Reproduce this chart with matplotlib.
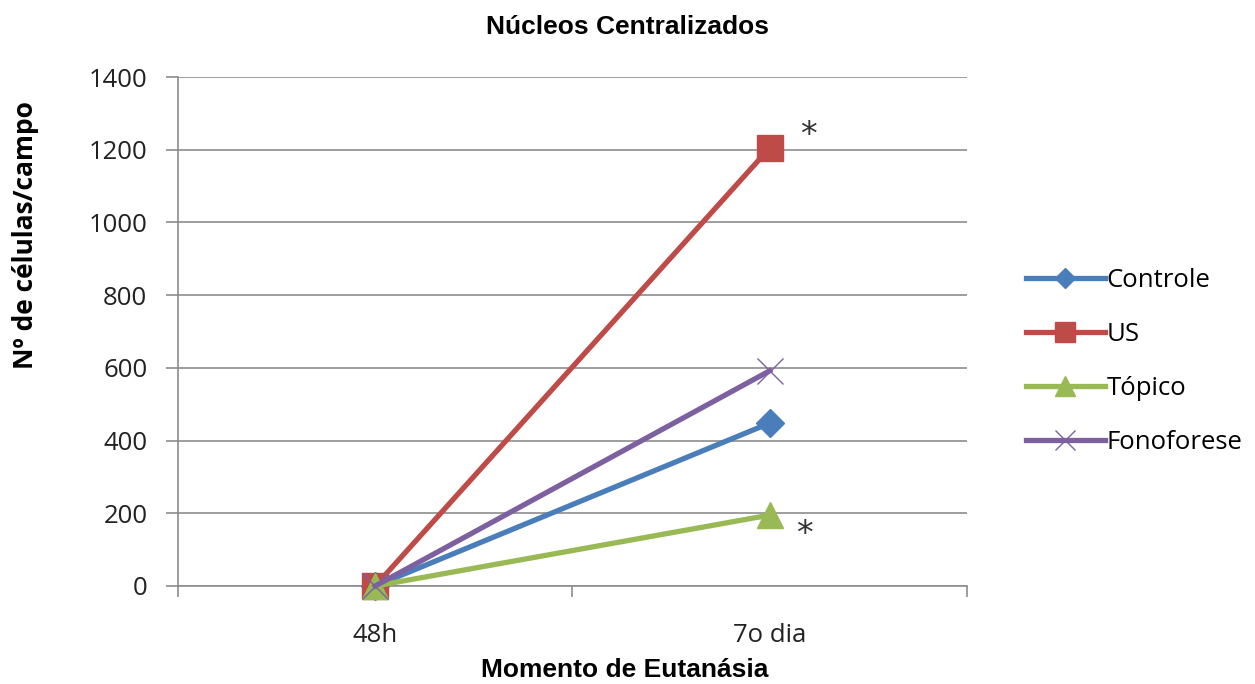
import matplotlib.pyplot as plt
from matplotlib.ticker import FixedLocator

# momentos de eutanásia e contagens médias por grupo
momentos = ['48h', '7o dia']
controle = [0, 448]
us = [0, 1205]
topico = [0, 195]
fonoforese = [0, 592]
y_ticks = [0, 200, 400, 600, 800, 1000, 1200, 1400]

tick_font = 'Open Sans'
grid_col = '#8c8c8c'

fig = plt.figure(figsize=(12.55, 6.84), dpi=100)
ax = fig.add_axes([0.1418, 0.1433, 0.6287, 0.7441])

x = list(range(len(momentos)))
ax.plot(x, controle, color='#4A7EBB', lw=3.8, marker='D', ms=14,
        label='Controle', zorder=3, clip_on=False)
ax.plot(x, us, color='#BE4B48', lw=3.8, marker='s', ms=19,
        label='US', zorder=3, clip_on=False)
ax.plot(x, topico, color='#98B954', lw=3.8, marker='^', ms=19,
        label='Tópico', zorder=3, clip_on=False)
ax.plot(x, fonoforese, color='#7D60A0', lw=3.8, marker='x', ms=19,
        mew=1.0, label='Fonoforese', zorder=3, clip_on=False)

# asteriscos de significância
ax.annotate('*', xy=(1, us[1]), xytext=(28, -3), textcoords='offset points',
            fontsize=24, color='#333333', ha='center', va='bottom')
ax.annotate('*', xy=(1, topico[1]), xytext=(25, -26), textcoords='offset points',
            fontsize=24, color='#333333', ha='center', va='bottom')

ax.set_xlim(-0.5, 1.5)
ax.set_ylim(0, 1400)
ax.set_yticks(y_ticks)
ax.set_yticklabels([str(v) for v in y_ticks], fontfamily=tick_font,
                   fontsize=18.5, color='#222222')
ax.set_xticks(x)
ax.set_xticklabels(momentos, fontfamily=tick_font, fontsize=18.5,
                   color='#222222')
ax.xaxis.set_minor_locator(FixedLocator([-0.5, 0.5, 1.5]))
ax.tick_params(axis='x', which='major', length=0, pad=27)
ax.tick_params(axis='x', which='minor', length=8, color=grid_col, width=1.2)
ax.tick_params(axis='y', length=9, color=grid_col, width=1.2, pad=13)

ax.grid(axis='y', color=grid_col, lw=1.2, zorder=0)
ax.set_axisbelow(True)
for s in ['top', 'right']:
    ax.spines[s].set_visible(False)
for s in ['left', 'bottom']:
    ax.spines[s].set_color(grid_col)
    ax.spines[s].set_linewidth(1.2)

fig.text(0.5, 0.96, 'Núcleos Centralizados', ha='center', va='center',
         fontfamily='Liberation Sans', fontweight='bold', fontsize=19)
fig.text(0.4975, 0.02, 'Momento de Eutanásia', ha='center', va='center',
         fontfamily='Liberation Sans', fontweight='bold', fontsize=19)
fig.text(0.020, 0.657, 'Nº de células/campo', ha='center', va='center',
         rotation=90, fontfamily='Open Sans', fontweight='bold',
         fontsize=19)

leg = ax.legend(loc='center left', bbox_to_anchor=(1.045, 0.441), frameon=False,
                prop={'family': tick_font, 'size': 18.5}, handlelength=3.1,
                handletextpad=0.05, labelspacing=1.12, markerscale=0.75)

fig.savefig('out.png', dpi=100)
